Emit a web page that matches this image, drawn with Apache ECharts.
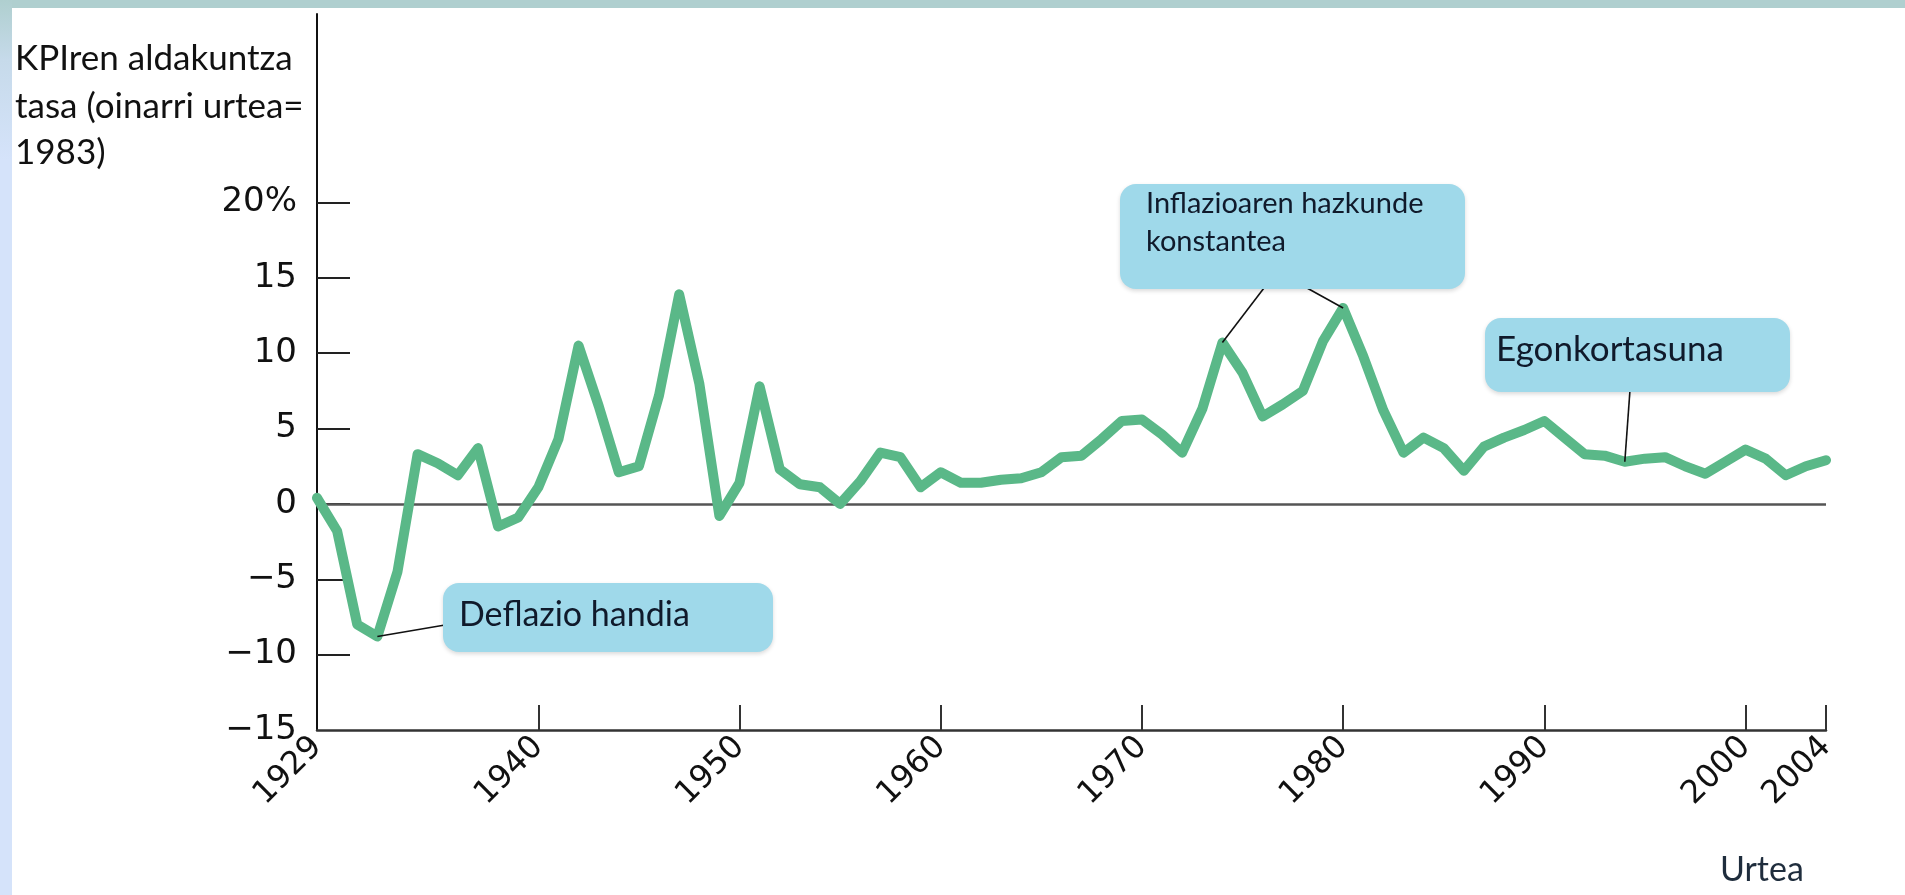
<!DOCTYPE html>
<html>
<head>
<meta charset="utf-8">
<script src="https://cdn.jsdelivr.net/npm/echarts@6/dist/echarts.min.js"></script>
<style>
html,body{margin:0;padding:0;background:#fff;overflow:hidden;}
#topbar{position:absolute;left:0;top:0;width:1905px;height:8px;background:#afcfcf;}
#leftbar{position:absolute;left:0;top:0;width:12px;height:895px;background:linear-gradient(to bottom,#afcfcf 0px,#c6daea 60px,#d5e3fa 160px,#d5e3fa 895px);}
#chart{position:absolute;left:0;top:0;width:1905px;height:895px;}
</style>
</head>
<body>
<div id="chart"></div>
<div id="topbar"></div>
<div id="leftbar"></div>
<script>
// ---- data ----
const years = [];
for (let y = 1929; y <= 2004; y++) years.push(y);
const inflation = [
  0.4, -1.8, -8.0, -8.8, -4.5, 3.3, 2.7, 1.9, 3.7, -1.5,   // 1929-1938
  -0.9, 1.1, 4.3, 10.5, 6.5, 2.1, 2.5, 7.2, 13.9, 8.0,     // 1939-1948
  -0.8, 1.4, 7.8, 2.3, 1.3, 1.1, 0.0, 1.5, 3.4, 3.1,       // 1949-1958
  1.1, 2.1, 1.4, 1.4, 1.6, 1.7, 2.1, 3.1, 3.2, 4.3,        // 1959-1968
  5.5, 5.6, 4.6, 3.4, 6.3, 10.7, 8.7, 5.8, 6.6, 7.5,       // 1969-1978
  10.8, 13.0, 9.8, 6.2, 3.4, 4.4, 3.7, 2.2, 3.8, 4.4,      // 1979-1988
  4.9, 5.5, 4.4, 3.3, 3.2, 2.8, 3.0, 3.1, 2.5, 2.0,        // 1989-1998
  2.8, 3.6, 3.0, 1.9, 2.5, 2.9                             // 1999-2004
];
const xTickYears = [1940, 1950, 1960, 1970, 1980, 1990, 2000, 2004];
const xLabelYears = [1929, 1940, 1950, 1960, 1970, 1980, 1990, 2000, 2004];
const yTickValues = [-10, -5, 0, 5, 10, 15, 20];
const yLabelValues = [-15, -10, -5, 0, 5, 10, 15, 20];
const yAxisTitle = ['KPIren aldakuntza', 'tasa (oinarri urtea=', '1983)'];
const xAxisTitle = 'Urtea';
const notes = {
  deflation: ['Deflazio handia'],
  inflation: ['Inflazioaren hazkunde', 'konstantea'],
  stability: ['Egonkortasuna']
};
// annotation anchor points (year of the marked value)
const deflationYear = 1932;
const inflationYears = [1974, 1980];
const stabilityYear = 1994;

const seriesData = years.map((y, i) => [y, inflation[i]]);

const chart = echarts.init(document.getElementById('chart'), null, {renderer: 'canvas'});
const numFont = 'DejaVu Sans';
const txtFont = 'Lato';

chart.setOption({
  animation: false,
  backgroundColor: '#ffffff',
  grid: {left: 317, right: 79, top: 14, bottom: 165},
  xAxis: {
    type: 'value', min: 1929, max: 2004,
    axisLine: {show: true, onZero: false, lineStyle: {color: '#333', width: 2.5}},
    axisTick: {show: true, inside: true, length: 25, customValues: xTickYears, lineStyle: {color: '#333', width: 2}},
    axisLabel: {
      show: true, customValues: xLabelYears, rotate: 45, margin: 12,
      fontFamily: numFont, fontSize: 32, color: '#111',
      formatter: v => String(v)
    },
    splitLine: {show: false}
  },
  yAxis: {
    type: 'value', min: -15, max: 32.5, interval: 5,
    axisLine: {show: true, onZero: false, lineStyle: {color: '#111', width: 2}},
    axisTick: {show: true, inside: true, length: 33, customValues: yTickValues, lineStyle: {color: '#222', width: 2}},
    axisLabel: {
      show: true, customValues: yLabelValues, margin: 20,
      fontFamily: numFont, fontSize: 34, color: '#111',
      formatter: v => v === 20 ? '20%' : (v < 0 ? '\u2212' + Math.abs(v) : String(v))
    },
    splitLine: {show: false}
  },
  series: [{
    type: 'line',
    data: seriesData,
    z: 3,
    symbol: 'none',
    lineStyle: {color: '#5ab888', width: 10, cap: 'round', join: 'round'},
    markLine: {
      silent: true, z: 1, symbol: ['none', 'none'],
      label: {show: false},
      lineStyle: {color: '#555', width: 2.5, type: 'solid'},
      data: [{yAxis: 0}]
    }
  }]
});

function px(year, val) {
  return chart.convertToPixel({gridIndex: 0}, [year, val]);
}
function valOf(year) { return inflation[years.indexOf(year)]; }

const boxFill = '#9fd9ea';
const textColor = '#101a2b';
function box(x, y, w, h) {
  return {
    type: 'rect', z: 10,
    shape: {x: x, y: y, width: w, height: h, r: 16},
    style: {fill: boxFill, shadowBlur: 4, shadowColor: 'rgba(0,0,0,0.15)', shadowOffsetY: 2}
  };
}
function label(x, y, text, size, color) {
  return {
    type: 'text', z: 11, x: x, y: y,
    style: {text: text, fill: color || textColor, font: size + 'px ' + txtFont, textVerticalAlign: 'middle', verticalAlign: 'middle'}
  };
}
function leader(x1, y1, p) {
  return {
    type: 'line', z: 9,
    shape: {x1: x1, y1: y1, x2: p[0], y2: p[1]},
    style: {stroke: '#111', lineWidth: 1.6}
  };
}

const g = [];
// y-axis title
g.push(label(15, 59, yAxisTitle[0], 35, '#111'));
g.push(label(15, 107, yAxisTitle[1], 35, '#111'));
g.push(label(15, 153, yAxisTitle[2], 35, '#111'));
// x-axis title
g.push(label(1720, 870, xAxisTitle, 34, '#1f2d3d'));

// Deflazio handia
g.push(leader(445, 625, px(deflationYear, valOf(deflationYear))));
g.push(box(443, 583, 330, 69));
g.push(label(459, 615, notes.deflation[0], 34));

// Inflazioaren hazkunde konstantea
g.push(leader(1264, 288, px(inflationYears[0], valOf(inflationYears[0]))));
g.push(leader(1307, 288, px(inflationYears[1], valOf(inflationYears[1]))));
g.push(box(1120, 184, 345, 105));
g.push(label(1146, 204, notes.inflation[0], 29));
g.push(label(1146, 242, notes.inflation[1], 29));

// Egonkortasuna
g.push(leader(1630, 390, px(stabilityYear, valOf(stabilityYear))));
g.push(box(1485, 318, 305, 74));
g.push(label(1496, 350, notes.stability[0], 35));

chart.setOption({graphic: {elements: g}});
</script>
</body>
</html>
